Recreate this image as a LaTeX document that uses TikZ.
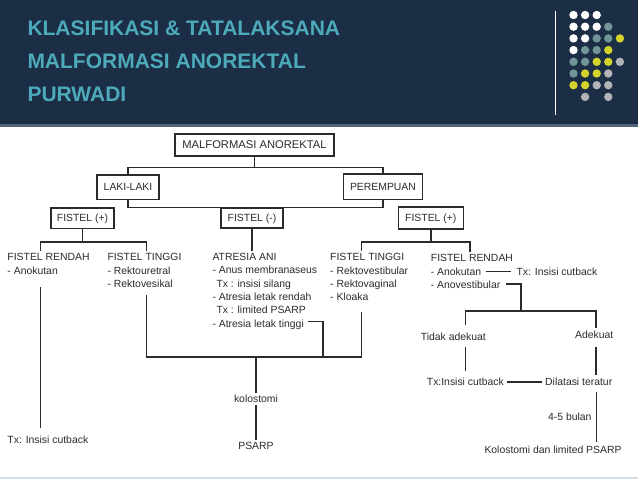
\documentclass[tikz,border=0pt]{standalone}
\usepackage{fontspec}
\usetikzlibrary{positioning}
\newfontfamily\headfont{Liberation Sans}
\newfontfamily\chartfont{Liberation Sans}
\definecolor{Navy}{HTML}{1B2E45}
\definecolor{Rule}{HTML}{50657A}
\definecolor{Foot}{HTML}{D3DDE5}
\definecolor{Teal}{HTML}{4DAABB}
\definecolor{Ink}{HTML}{2B2B2B}
\definecolor{DotW}{HTML}{FFFFFF}
\definecolor{DotG}{HTML}{719599}
\definecolor{DotY}{HTML}{D3D32B}
\definecolor{DotL}{HTML}{B3B4B8}
\colorlet{DotN}{Navy}

\begin{document}
\begin{tikzpicture}[x=1pt,y=-1pt,
 ttl/.style={anchor=base west,inner sep=0pt,text=Teal,font=\headfont\bfseries\fontsize{21}{26}\selectfont},
 t/.style={anchor=west,inner sep=0pt,text height=7.5pt,text depth=0pt,text=Ink,font=\chartfont\fontsize{10.4}{13}\selectfont},
 nx/.style={below=5.5pt of #1.south west,anchor=north west},
 b/.style={t,anchor=center,draw=Ink,line width=1.4pt},
 a/.style={draw=Ink,line width=1.4pt}
]
\useasboundingbox (0,0) rectangle (638,479);
\fill[white] (0,0) rectangle (638,479);
\fill[Navy] (0,0) rectangle (638,125);
\fill[Rule] (0,124) rectangle (638,127);
\fill[Foot] (0,477) rectangle (638,479);
\draw[white,line width=1.2pt] (555.7,10.7) -- (555.7,115);
\foreach \row [count=\j from 0] in {{W,W,W},{W,W,W,G},{W,W,G,G,Y},{W,G,G,Y},{G,G,Y,Y,L},{G,Y,Y,L},{Y,Y,L,L},{N,L,N,L}}
  \foreach \c [count=\i from 0] in \row
    \fill[Dot\c] (573.5+11.6*\i,15+11.7*\j) circle[radius=4.2pt];

\node[ttl] (t1) at (27.3,35) {KLASIFIKASI \& TATALAKSANA};
\node[ttl] (t2) at (27.3,68.3) {MALFORMASI ANOREKTAL};
\node[ttl] (t3) at (27.3,101.7) {PURWADI};

\node[b,minimum width=159pt,minimum height=22pt,font=\chartfont\fontsize{11.2}{13}\selectfont] (mal) at (254.5,145) {MALFORMASI ANOREKTAL};
\node[b,minimum width=62pt,minimum height=24.3pt] (laki) at (128,187.2) {LAKI-LAKI};
\node[b,minimum width=79pt,minimum height=25.3pt] (perem) at (383,186.7) {PEREMPUAN};
\node[b,minimum width=63pt,minimum height=20.3pt] (fpl) at (82.5,218.2) {FISTEL (+)};
\node[b,minimum width=62pt,minimum height=19.7pt] (fmin) at (252,218) {FISTEL (-)};
\node[b,minimum width=65pt,minimum height=22pt] (fpr) at (430.8,218) {FISTEL (+)};

\node[t] (lfr) at (7.3,257) {FISTEL RENDAH};
\node[t,nx=lfr] (lanok) {- Anokutan};
\node[t] (lft) at (107.3,257) {FISTEL TINGGI};
\node[t,nx=lft] (lrku) {- Rektouretral};
\node[t,nx=lrku] (lrkv) {- Rektovesikal};
\node[t] (atr) at (212.3,256.5) {ATRESIA ANI};
\node[t,nx=atr] (anus) {- Anus membranaseus};
\node[t,nx=anus,xshift=4pt] (txa) {Tx : insisi silang};
\node[t,nx=txa,xshift=-4pt] (atrr) {- Atresia letak rendah};
\node[t,nx=atrr,xshift=4pt] (txb) {Tx : limited PSARP};
\node[t,nx=txb,xshift=-4pt] (atrt) {- Atresia letak tinggi};
\node[t] (rft) at (330,257) {FISTEL TINGGI};
\node[t,nx=rft] (rrkb) {- Rektovestibular};
\node[t,nx=rrkb] (rrkg) {- Rektovaginal};
\node[t,nx=rrkg] (rklo) {- Kloaka};
\node[t] (rfr) at (430.7,258) {FISTEL RENDAH};
\node[t,nx=rfr] (ranok) {- Anokutan};
\node[t,nx=ranok] (ranov) {- Anovestibular};
\node[t,right=35pt of ranok] (rtx) {Tx: Insisi cutback};
\node[t] (tidak) at (420.7,336.7) {Tidak adekuat};
\node[t] (adek) at (575,335) {Adekuat};
\node[t] (rtx2) at (426.7,382) {Tx:Insisi cutback};
\node[t] (dil) at (545,382) {Dilatasi teratur};
\node[t,anchor=east] (bln) at (591.7,416.7) {4-5 bulan};
\node[t,anchor=center] (kdl) at (553,450) {Kolostomi dan limited PSARP};
\node[t] (ltx) at (7.3,440) {Tx: Insisi cutback};
\node[t,anchor=center,outer sep=2pt] (kolo) at (256,399) {kolostomi};
\node[t,anchor=center,outer sep=2pt] (psarp) at (256,445.7) {PSARP};

\coordinate (j0) at (254.5,167.5);
\coordinate (jl) at (82.5,242);\coordinate (d1) at (40.7,250.5);\coordinate (d2) at (146.7,250.5);
\coordinate (dm) at (252,250.5);
\coordinate (jr) at (430.8,242);\coordinate (d3) at (361.7,251);\coordinate (d4) at (470,251.5);
\coordinate (u1) at (40.7,287);\coordinate (u1e) at (40.7,428);
\coordinate (u2) at (146.7,295);\coordinate (u3) at (361.7,311.5);\coordinate (j2) at (256,357);\coordinate (j3) at (323,357);
\coordinate (r1) at (521,311);\coordinate (r2) at (465.7,325);\coordinate (r3) at (596,328);
\coordinate (r4) at (465.7,346.7);\coordinate (r4e) at (465.7,371);
\coordinate (r5) at (596,346.7);\coordinate (r6) at (596,375);
\coordinate (r7) at (596.7,391.7);\coordinate (r8) at (596.7,441.7);

\draw[a] (mal.south)--(j0);\draw[a] (laki.north)|-(j0)-|(perem.north);
\draw[a] (laki.south)|-(fmin.north)-|(perem.south);
\draw[a] (fpl.south)--(jl);\draw[a] (d1)|-(jl)-|(d2);\draw[a] (fmin.south)--(dm);
\draw[a] (fpr.south)--(jr);\draw[a] (d3)|-(jr)-|(d4);
\draw[a] (u1)--(u1e);\draw[a] (u2)|-(j2)-|(u3);\draw[a] ([xshift=4pt,yshift=2pt]atrt.east)-|(j3);
\draw[a] (j2)--(kolo);\draw[a] (kolo)--(psarp);
\draw[a] ([xshift=5pt]ranok.east)--([xshift=-5pt]rtx.west);
\draw[a] ([xshift=6pt,yshift=1pt]ranov.east)-|(r1);\draw[a] (r2)|-(r1)-|(r3);
\draw[a] (r4)--(r4e);\draw[a] ([xshift=3pt]rtx2.east)--([xshift=-3pt]dil.west);
\draw[a] (r5)--(r6);\draw[a] (r7)--(r8);
\end{tikzpicture}
\end{document}
